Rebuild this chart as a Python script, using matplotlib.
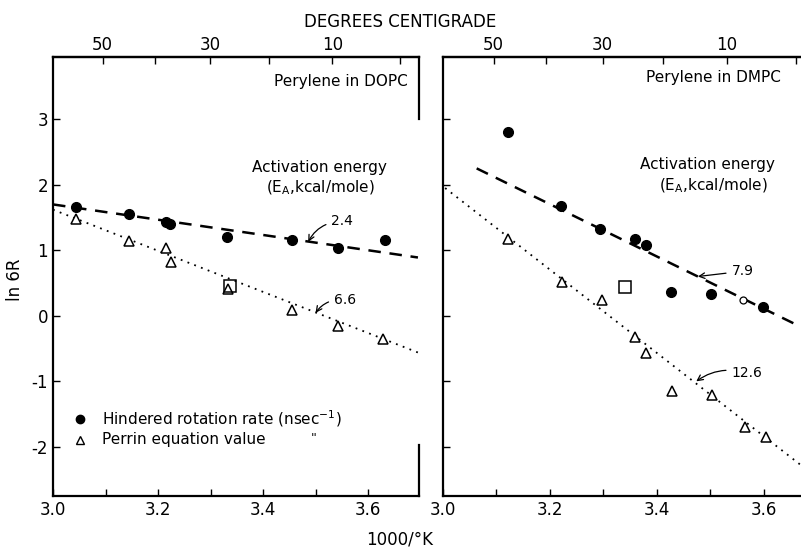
import matplotlib
matplotlib.use('Agg')
import matplotlib.pyplot as plt
import numpy as np

# Perylene in DOPC  (x = 1000/K, y = ln 6R)
dopc_rate_x = [3.044, 3.145, 3.215, 3.223, 3.331, 3.455, 3.542, 3.632]
dopc_rate_y = [1.66, 1.55, 1.43, 1.40, 1.21, 1.16, 1.04, 1.15]
dopc_perrin_x = [3.044, 3.145, 3.215, 3.225, 3.334, 3.455, 3.542, 3.629]
dopc_perrin_y = [1.48, 1.145, 1.04, 0.82, 0.41, 0.09, -0.15, -0.36]
dopc_square_x = [3.337]
dopc_square_y = [0.45]
dopc_fit_rate_x = [3.0, 3.695]
dopc_fit_rate_y = [1.70, 0.89]
dopc_fit_perrin_x = [3.0, 3.695]
dopc_fit_perrin_y = [1.62, -0.56]

# Perylene in DMPC
dmpc_rate_x = [3.122, 3.221, 3.293, 3.359, 3.379, 3.427, 3.501, 3.599]
dmpc_rate_y = [2.80, 1.67, 1.33, 1.17, 1.08, 0.36, 0.34, 0.13]
dmpc_open_x = [3.561]
dmpc_open_y = [0.24]
dmpc_perrin_x = [3.121, 3.223, 3.297, 3.360, 3.379, 3.429, 3.503, 3.565, 3.605]
dmpc_perrin_y = [1.17, 0.52, 0.24, -0.33, -0.56, -1.15, -1.21, -1.69, -1.85]
dmpc_square_x = [3.340]
dmpc_square_y = [0.44]
dmpc_fit_rate_x = [3.063, 3.67]
dmpc_fit_rate_y = [2.25, -0.17]
dmpc_fit_perrin_x = [3.004, 3.67]
dmpc_fit_perrin_y = [1.95, -2.28]

celsius_major = [50, 30, 10]
celsius_minor = [40, 20, 0]

fig = plt.figure(figsize=(8.01, 5.53), dpi=100)
ax1 = fig.add_axes([53/801, 57/553 * 0 + 1 - 496/553, 366/801, 439/553])
ax2 = fig.add_axes([443/801, 1 - 496/553, 358/801, 439/553])

ylo, yhi = -2.75, 3.95
ax1.set_xlim(3.0, 3.697)
ax2.set_xlim(3.0, 3.67)

def c2x(c):
    return 1000.0 / (np.asarray(c, dtype=float) + 273.15)

def x2c(x):
    return 1000.0 / np.asarray(x, dtype=float) - 273.15

for ax in (ax1, ax2):
    ax.set_ylim(ylo, yhi)
    ax.set_xticks([3.0, 3.2, 3.4, 3.6])
    ax.set_xticklabels(['3.0', '3.2', '3.4', '3.6'])
    ax.set_xticks([3.1, 3.3, 3.5], minor=True)
    ax.set_yticks([-2, -1, 0, 1, 2, 3])
    ax.tick_params(axis='both', which='both', direction='in', width=1.0,
                   labelsize=12, colors='black')
    ax.tick_params(axis='both', which='major', length=5)
    ax.tick_params(axis='x', which='minor', length=5)
    for s in ax.spines.values():
        s.set_linewidth(1.6)
    sec = ax.secondary_xaxis('top', functions=(x2c, c2x))
    sec.set_xticks(celsius_major)
    sec.set_xticklabels([str(c) for c in celsius_major])
    sec.set_xticks(celsius_minor, minor=True)
    sec.tick_params(axis='x', which='both', direction='in', length=5,
                    width=1.0, labelsize=12, pad=2)
    sec.spines['top'].set_linewidth(1.6)

ax1.set_yticklabels(['-2', '-1', '0', '1', '2', '3'])
ax2.set_yticklabels([])
ax2.spines['right'].set_visible(False)

# left panel right border is broken in the middle
ax1.spines['right'].set_visible(False)
ax1.axvline(3.697, ymin=0, ymax=(-1.97 - ylo) / (yhi - ylo), color='black', lw=1.6, clip_on=False)
ax1.axvline(3.697, ymin=(3.0 - ylo) / (yhi - ylo), ymax=1, color='black', lw=1.6, clip_on=False)

dash = (0, (5, 3.5))
dot = (0, (1, 3))

# DOPC
ax1.plot(dopc_fit_rate_x, dopc_fit_rate_y, color='black', lw=1.8, linestyle=dash)
ax1.plot(dopc_fit_perrin_x, dopc_fit_perrin_y, color='black', lw=1.3, linestyle=dot)
ax1.plot(dopc_rate_x, dopc_rate_y, 'o', color='black', markersize=7)
ax1.plot(dopc_perrin_x, dopc_perrin_y, '^', markerfacecolor='white',
         markeredgecolor='black', markersize=7, markeredgewidth=1.1)
ax1.plot(dopc_square_x, dopc_square_y, 's', markerfacecolor='none',
         markeredgecolor='black', markersize=8, markeredgewidth=1.1)

ax1.text(3.676, 3.57, 'Perylene in DOPC', ha='right', va='center', fontsize=11)
ax1.text(3.507, 2.27, 'Activation energy', ha='center', va='center', fontsize=11)
ax1.text(3.510, 1.95, '(E$_\\mathregular{A}$,kcal/mole)', ha='center', va='center', fontsize=11)
ax1.annotate('2.4', xy=(3.486, 1.13), xytext=(3.53, 1.44), fontsize=10,
             ha='left', va='center',
             arrowprops=dict(arrowstyle='->', color='black', lw=0.9,
                             connectionstyle='arc3,rad=0.3', shrinkA=2, shrinkB=0))
ax1.annotate('6.6', xy=(3.50, 0.045), xytext=(3.535, 0.24), fontsize=10,
             ha='left', va='center',
             arrowprops=dict(arrowstyle='->', color='black', lw=0.9,
                             connectionstyle='arc3,rad=0.3', shrinkA=2, shrinkB=0))

# legend drawn as in the figure
ax1.plot([3.051], [-1.57], 'o', color='black', markersize=6)
ax1.plot([3.051], [-1.89], '^', markerfacecolor='white', markeredgecolor='black',
         markersize=6, markeredgewidth=1.0)
ax1.text(3.093, -1.57, 'Hindered rotation rate (nsec$^{-1}$)', ha='left', va='center', fontsize=11)
ax1.text(3.093, -1.89, 'Perrin equation value', ha='left', va='center', fontsize=11)
ax1.text(3.49, -1.87, '"', ha='left', va='center', fontsize=9)

# DMPC
ax2.plot(dmpc_fit_rate_x, dmpc_fit_rate_y, color='black', lw=1.8, linestyle=dash)
ax2.plot(dmpc_fit_perrin_x, dmpc_fit_perrin_y, color='black', lw=1.3, linestyle=dot)
ax2.plot(dmpc_rate_x, dmpc_rate_y, 'o', color='black', markersize=7)
ax2.plot(dmpc_open_x, dmpc_open_y, 'o', markerfacecolor='white',
         markeredgecolor='black', markersize=5, markeredgewidth=0.9)
ax2.plot(dmpc_perrin_x, dmpc_perrin_y, '^', markerfacecolor='white',
         markeredgecolor='black', markersize=7, markeredgewidth=1.1)
ax2.plot(dmpc_square_x, dmpc_square_y, 's', markerfacecolor='white',
         markeredgecolor='black', markersize=8, markeredgewidth=1.1)

ax2.text(3.507, 3.63, 'Perylene in DMPC', ha='center', va='center', fontsize=11)
ax2.text(3.495, 2.31, 'Activation energy', ha='center', va='center', fontsize=11)
ax2.text(3.505, 1.98, '(E$_\\mathregular{A}$,kcal/mole)', ha='center', va='center', fontsize=11)
ax2.annotate('7.9', xy=(3.477, 0.60), xytext=(3.540, 0.68), fontsize=10,
             ha='left', va='center',
             arrowprops=dict(arrowstyle='->', color='black', lw=0.9, shrinkA=2, shrinkB=0))
ax2.annotate('12.6', xy=(3.474, -1.0), xytext=(3.540, -0.875), fontsize=10,
             ha='left', va='center',
             arrowprops=dict(arrowstyle='->', color='black', lw=0.9,
                             connectionstyle='arc3,rad=0.25', shrinkA=2, shrinkB=0))

fig.text(15/801, 1 - 280/553, 'ln 6R', rotation=90, ha='center', va='center', fontsize=12)
fig.text(400/801, 1 - 22/553, 'DEGREES CENTIGRADE', ha='center', va='center', fontsize=12)
fig.text(400/801, 1 - 540/553, '1000/°K', ha='center', va='center', fontsize=12)

fig.savefig('out.png', dpi=100)
